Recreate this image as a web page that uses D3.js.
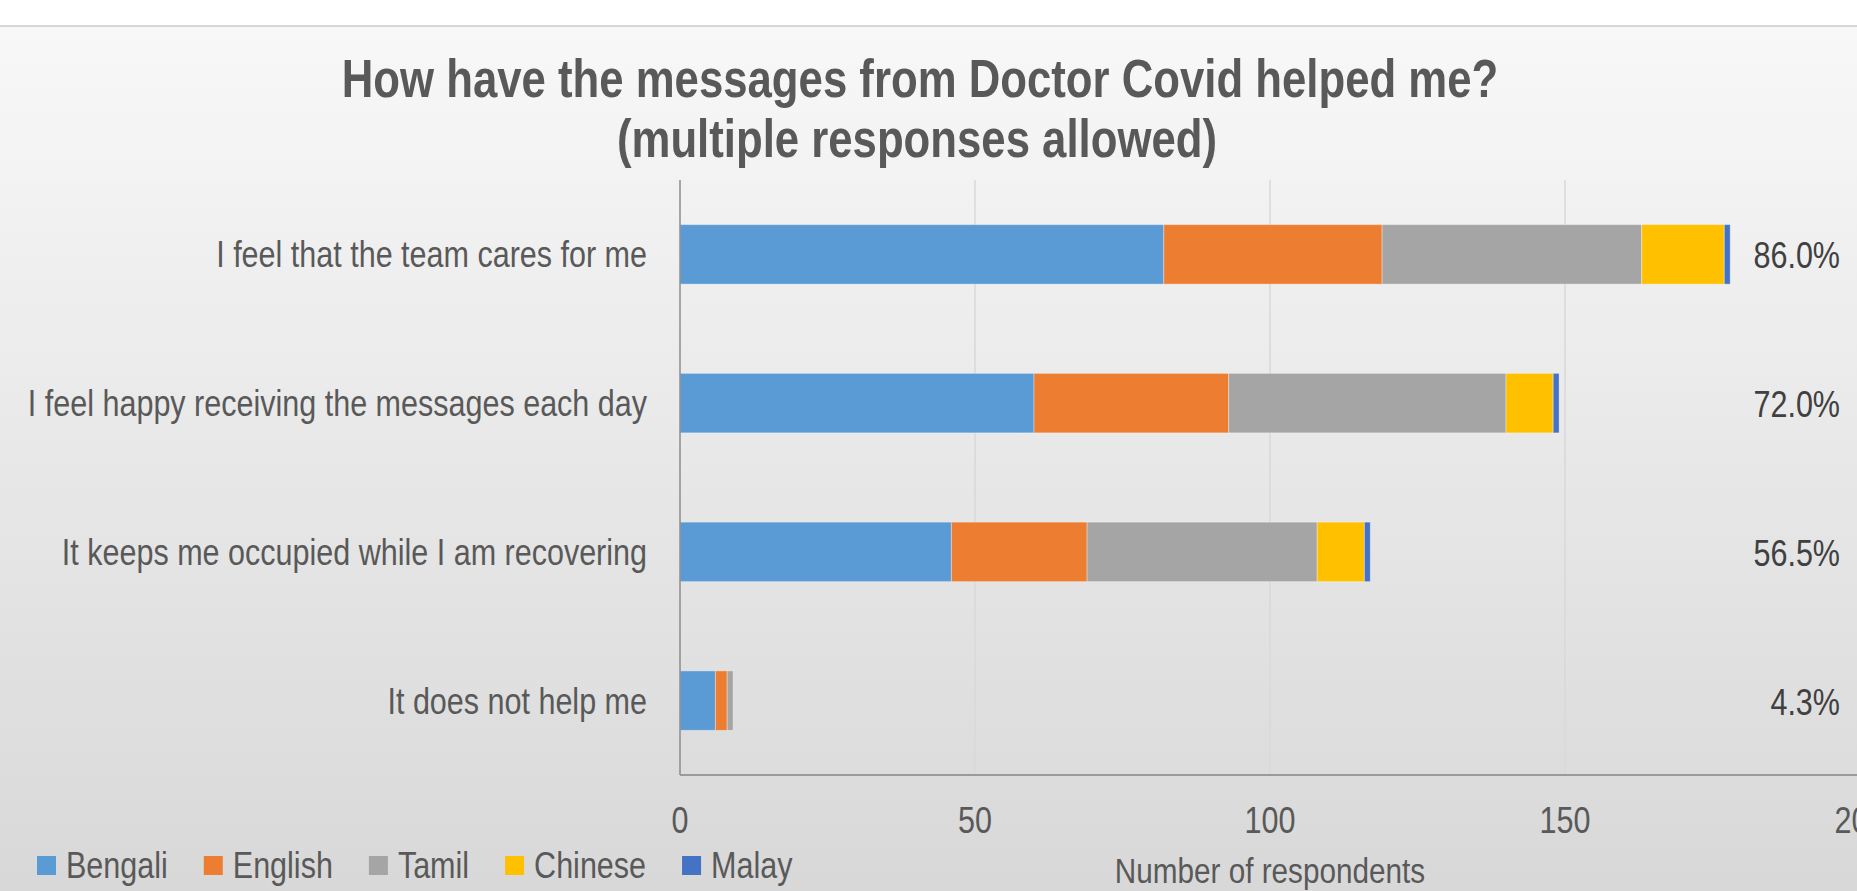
<!DOCTYPE html>
<html>
<head>
<meta charset="utf-8">
<script src="https://cdn.jsdelivr.net/npm/d3@7"></script>
<style>
  html, body { margin: 0; padding: 0; background: #fff; }
  svg { display: block; }
  text { font-family: "Liberation Sans", Arial, sans-serif; }
</style>
</head>
<body>
<div id="chart"></div>
<script>
// data
const categories = [
  "I feel that the team cares for me",
  "I feel happy receiving the messages each day",
  "It keeps me occupied while I am recovering",
  "It does not help me"
];
const seriesNames = ["Bengali", "English", "Tamil", "Chinese", "Malay"];
const bengali = [82, 60, 46, 6];
const english = [37, 33, 23, 2];
const tamil   = [44, 47, 39, 1];
const chinese = [14, 8, 8, 0];
const malay   = [1, 1, 1, 0];
const pctLabels = ["86.0%", "72.0%", "56.5%", "4.3%"];
const xTicks = [0, 50, 100, 150, 200];

const colors = ["#5b9bd5", "#ed7d31", "#a5a5a5", "#ffc000", "#4472c4"];
const txt = "#595959";

const W = 1857, H = 891;
const margin = {left: 680, right: 1860, top: 180, bottom: 775};
const kx = 0.825; // the original uses a narrow face, squeeze horizontally

// squeeze a text selection around its own x anchor
function narrow(sel) {
  sel.attr("transform", function() {
    const ax = +d3.select(this).attr("x");
    return "translate(" + ax + ",0) scale(" + kx + ",1) translate(" + (-ax) + ",0)";
  });
}

const svg = d3.select("#chart").append("svg").attr("width", W).attr("height", H);

// background
const defs = svg.append("defs");
const grad = defs.append("linearGradient").attr("id", "bg").attr("x1", 0).attr("y1", 0).attr("x2", 0).attr("y2", 1);
grad.append("stop").attr("offset", "0%").attr("stop-color", "#f8f8f8");
grad.append("stop").attr("offset", "100%").attr("stop-color", "#d8d8d8");
svg.append("rect").attr("width", W).attr("height", H).attr("fill", "#fff");
svg.append("rect").attr("y", 26).attr("width", W).attr("height", H - 26).attr("fill", "url(#bg)");
svg.append("line").attr("x1", 0).attr("x2", W).attr("y1", 26).attr("y2", 26)
  .attr("stroke", "#d6d6d6").attr("stroke-width", 2);

// title
svg.append("text").attr("x", 920).attr("y", 97)
  .attr("text-anchor", "middle").attr("fill", txt)
  .attr("font-size", 53).attr("font-weight", "bold")
  .text("How have the messages from Doctor Covid helped me?").call(narrow);
svg.append("text").attr("x", 917).attr("y", 157)
  .attr("text-anchor", "middle").attr("fill", txt)
  .attr("font-size", 53).attr("font-weight", "bold")
  .text("(multiple responses allowed)").call(narrow);

// scales
const x = d3.scaleLinear().domain([0, 200]).range([margin.left, margin.right]);
const y = d3.scaleBand().domain(categories).range([margin.top, margin.bottom])
  .paddingInner(0.6).paddingOuter(0.3);

// gridlines
svg.append("g").selectAll("line").data(xTicks.filter(d => d > 0)).join("line")
  .attr("x1", d => x(d)).attr("x2", d => x(d))
  .attr("y1", margin.top).attr("y2", margin.bottom)
  .attr("stroke", "#d9d9d9").attr("stroke-width", 1.5);

// stacked bars
const rows = categories.map((c, i) => ({
  cat: c, Bengali: bengali[i], English: english[i], Tamil: tamil[i], Chinese: chinese[i], Malay: malay[i]
}));
const stack = d3.stack().keys(seriesNames)(rows);

svg.append("g").selectAll("g").data(stack).join("g")
  .attr("fill", (d, i) => colors[i])
  .selectAll("rect").data(d => d.filter(s => s[1] > s[0])).join("rect")
  .attr("x", d => x(d[0]))
  .attr("width", d => x(d[1]) - x(d[0]))
  .attr("y", d => y(d.data.cat))
  .attr("height", y.bandwidth())
  .attr("stroke", "rgba(255,255,255,0.35)").attr("stroke-width", 1);

// axes lines
svg.append("line").attr("x1", x(0)).attr("x2", x(0)).attr("y1", margin.top).attr("y2", margin.bottom)
  .attr("stroke", "#8c8c8c").attr("stroke-width", 1.5);
svg.append("line").attr("x1", x(0)).attr("x2", W).attr("y1", margin.bottom).attr("y2", margin.bottom)
  .attr("stroke", "#9a9a9a").attr("stroke-width", 2);

// tick labels
svg.append("g").selectAll("text").data(xTicks).join("text")
  .attr("x", d => x(d)).attr("y", 833)
  .attr("text-anchor", "middle").attr("font-size", 37).attr("fill", txt)
  .text(d => d).call(narrow);

// category labels
svg.append("g").selectAll("text").data(categories).join("text")
  .attr("x", 647).attr("y", d => y(d) + y.bandwidth() / 2 + 13)
  .attr("text-anchor", "end").attr("font-size", 37).attr("fill", txt)
  .text(d => d).call(narrow);

// percentage labels
svg.append("g").selectAll("text").data(categories).join("text")
  .attr("x", 1840).attr("y", d => y(d) + y.bandwidth() / 2 + 14)
  .attr("text-anchor", "end").attr("font-size", 37).attr("fill", "#404040")
  .text((d, i) => pctLabels[i]).call(narrow);

// axis title
svg.append("text").attr("x", (margin.left + margin.right) / 2).attr("y", 883)
  .attr("text-anchor", "middle").attr("font-size", 36).attr("fill", txt)
  .text("Number of respondents").call(narrow);

// legend
const legend = svg.append("g");
let lx = 37;
seriesNames.forEach((name, i) => {
  legend.append("rect").attr("x", lx).attr("y", 856).attr("width", 19).attr("height", 19).attr("fill", colors[i]);
  const t = legend.append("text").attr("x", lx + 29).attr("y", 878)
    .attr("font-size", 37).attr("fill", txt).text(name).call(narrow);
  lx += 29 + t.node().getComputedTextLength() * kx + 36;
});
</script>
</body>
</html>
